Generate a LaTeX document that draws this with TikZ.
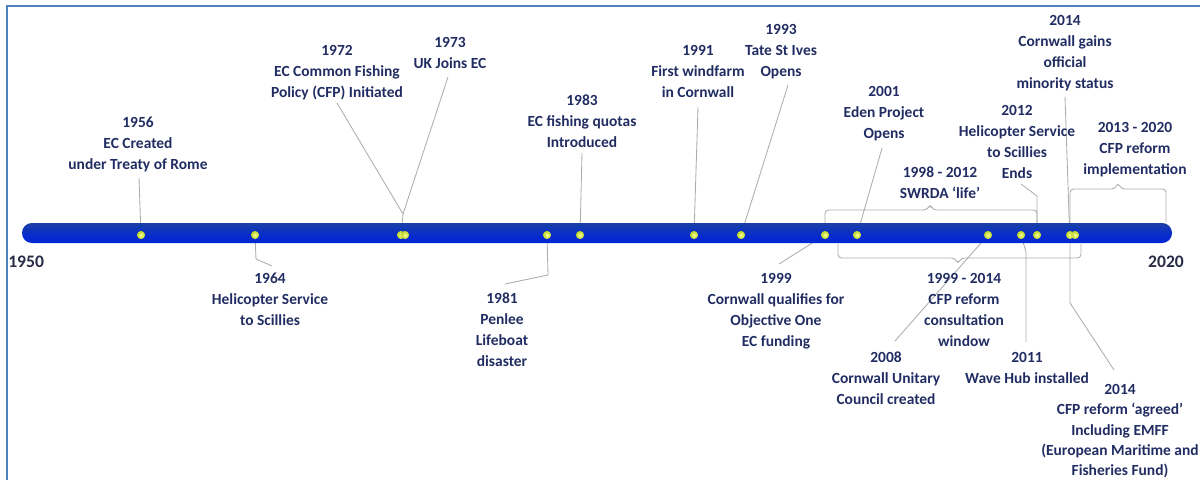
\documentclass[tikz,border=0pt]{standalone}
\usepackage{fontspec}
\setmainfont{Carlito}
\pgfdeclarelayer{back}
\pgfsetlayers{back,main}

\definecolor{ink}{RGB}{33,45,98}
\definecolor{yearink}{RGB}{40,44,70}
\definecolor{frameblue}{RGB}{79,129,189}
\definecolor{linkgray}{RGB}{172,172,172}
\definecolor{dotcore}{RGB}{250,255,150}
\definecolor{dotrim}{RGB}{185,210,40}

\pgfdeclareverticalshading{barshade}{100bp}{%
  color(0bp)=(rgb:red,80;green,120;blue,215);
  color(10bp)=(rgb:red,0;green,20;blue,120);
  color(40bp)=(rgb:red,5;green,35;blue,180);
  color(65bp)=(rgb:red,25;green,72;blue,228);
  color(88bp)=(rgb:red,70;green,125;blue,245);
  color(100bp)=(rgb:red,170;green,200;blue,255)}

\tikzset{
  lbl/.style={anchor=north, align=center, inner sep=0pt, text=ink,
    font=\bfseries\fontsize{11}{14.9}\selectfont},
  endyear/.style={inner sep=0pt, text=yearink,
    font=\bfseries\fontsize{12.5}{15}\selectfont},
  conn/.style={draw=linkgray, line width=0.6pt},
  brace/.style={conn, rounded corners=2.5pt},
  event/.style={circle, inner sep=0pt, minimum size=5.8pt,
    inner color=dotcore, outer color=dotrim},
}

\begin{document}
\begin{tikzpicture}[x=0.025cm, y=-0.025cm]
\useasboundingbox (0,0) rectangle (1200,479);

% frame
\draw[frameblue, line width=1.4pt] (7,485) -- (7,6) -- (1205,6);

% events on the line
\foreach \n/\x in {1956/141, 1964/255, 1972/401, 1973/405, 1981/547,
    1983/580, 1991/694, 1993/741, 1999/825, 2001/857, 2008/988,
    2011/1021, 2012/1037, 2014/1070, 2014b/1075}
  \node[event] (d\n) at (\x,235) {};

% end years
\node[endyear, anchor=west] (y1950) at (8,262) {1950};
\node[endyear] (y2020) at (1166,262) {2020};

% labels above the line
\node[lbl] (l1956) at (138,117) {1956\\EC Created\\under Treaty of Rome};
\node[lbl] (l1972) at (337,45) {1972\\EC Common Fishing\\Policy (CFP) Initiated};
\node[lbl] (l1973) at (450,37) {1973\\UK Joins EC};
\node[lbl] (l1983) at (582,95) {1983\\EC fishing quotas\\Introduced};
\node[lbl] (l1991) at (698,45) {1991\\First windfarm\\in Cornwall};
\node[lbl] (l1993) at (781,24) {1993\\Tate St Ives\\Opens};
\node[lbl] (l2001) at (884,86) {2001\\Eden Project\\Opens};
\node[lbl] (l1998) at (940,167) {1998 - 2012\\SWRDA `life'};
\node[lbl] (l2012) at (1017,105) {2012\\Helicopter Service\\to Scillies\\Ends};
\node[lbl] (l2014a) at (1065,15) {2014\\Cornwall gains\\official\\minority status};
\node[lbl] (l2013) at (1135,122) {2013 - 2020\\CFP reform\\implementation};

% labels below the line
\node[lbl] (l1964) at (270,273) {1964\\Helicopter Service\\to Scillies};
\node[lbl] (l1981) at (502,293) {1981\\Penlee\\Lifeboat\\disaster};
\node[lbl] (l1999) at (776,273) {1999\\Cornwall qualifies for\\Objective One\\EC funding};
\node[lbl] (l1999b) at (964,273) {1999 - 2014\\CFP reform\\consultation\\window};
\node[lbl] (l2008) at (886,352) {2008\\Cornwall Unitary\\Council created};
\node[lbl] (l2011) at (1027,352) {2011\\Wave Hub installed};
\node[lbl, font=\bfseries\fontsize{11}{14.5}\selectfont] (l2014b) at (1120,384)
  {2014\\CFP reform `agreed'\\Including EMFF\\(European Maritime and\\Fisheries Fund)};

% free ends of the leader lines
\coordinate (c1956) at (139,178);
\coordinate (c1964a) at (256,259);
\coordinate (c1964) at (272,266);
\coordinate (c1972) at (337,103);
\coordinate (c1973) at (448,77);
\coordinate (j1972) at (403,214);
\coordinate (c1981a) at (548,275);
\coordinate (c1981) at (505,284);
\coordinate (c1983) at (582,153);
\coordinate (c1991) at (698,107);
\coordinate (c1993) at (788,85);
\coordinate (c1999) at (779,264);
\coordinate (c2001) at (882,148);
\coordinate (c2008) at (895,341);
\coordinate (c2011a) at (1026,252);
\coordinate (c2011) at (1026,342);
\coordinate (c2012) at (1021,184);
\coordinate (c2012a) at (1037,196);
\coordinate (c2014) at (1065,97);
\coordinate (c2014a) at (1069,215);
\coordinate (c2014b) at (1070,303);
\coordinate (c2014c) at (1114,370);

\begin{pgfonlayer}{back}
  % leader lines
  \draw[conn] (c1956) -- (d1956.center);
  \draw[conn] (d1964.center) -- (c1964a) -- (c1964);
  \draw[conn] (c1972) -- (j1972) -- (d1972.center);
  \draw[conn] (c1973) -- (j1972);
  \draw[conn] (d1981.center) -- (c1981a) -- (c1981);
  \draw[conn] (c1983) -- (d1983.center);
  \draw[conn] (c1991) -- (d1991.center);
  \draw[conn] (c1993) -- (d1993.center);
  \draw[conn] (d1999.center) -- (c1999);
  \draw[conn] (c2001) -- (d2001.center);
  \draw[conn] (d2008.center) -- (c2008);
  \draw[conn] (d2011.center) -- (c2011a) -- (c2011);
  \draw[conn] (c2012) -- (c2012a) -- (d2012.center);
  \draw[conn] (c2014) -- (c2014a) -- (d2014.center);
  \draw[conn] (d2014.center) -- (c2014b) -- (c2014c);

  % period braces
  \draw[brace] (825,224) -- (825,210) -- (927,210) -- (930,204.5)
     -- (933,210) -- (1037,210) -- (1037,224);
  \draw[brace] (1070,224) -- (1070,189) -- (1115,189) -- (1118,182.5)
     -- (1121,189) -- (1166,189) -- (1166,222);
  \draw[brace] (838,244) -- (838,258) -- (955,258) -- (958,264)
     -- (961,258) -- (1081,258) -- (1081,244);

  % the time line
  \shade[shading=barshade, rounded corners=7pt] (22,223) rectangle (1172,243);
\end{pgfonlayer}
\end{tikzpicture}
\end{document}
